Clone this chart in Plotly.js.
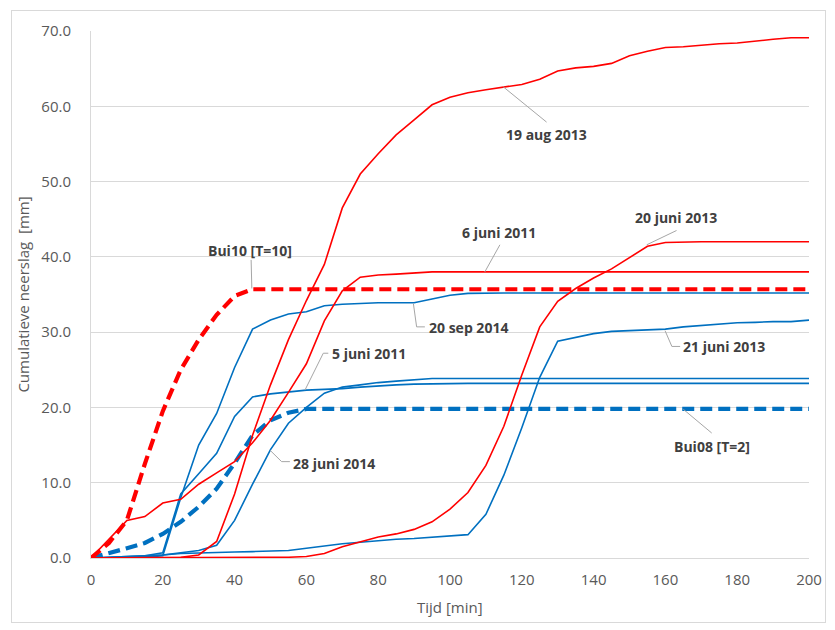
<!DOCTYPE html>
<html>
<head>
<meta charset="utf-8">
<script src="https://cdn.plot.ly/plotly-3.0.1.min.js"></script>
<style>
html,body{margin:0;padding:0;background:#fff;}
#chart{width:835px;height:630px;}
#frame{position:absolute;left:11px;top:10px;width:813px;height:611px;border:1px solid #d9d9d9;pointer-events:none;}
</style>
</head>
<body>
<div id="chart"></div>
<div id="frame"></div>
<script>
// time axis (minutes), 5-minute steps
const tijd = [0,5,10,15,20,25,30,35,40,45,50,55,60,65,70,75,80,85,90,95,100,105,110,115,120,125,130,135,140,145,150,155,160,165,170,175,180,185,190,195,200];

// cumulative rainfall [mm]
const aug19_2013 = [0,0,0,0,0,0.1,0.4,2.2,8.5,16.3,23,29,34.2,39,46.5,51,53.7,56.2,58.2,60.2,61.2,61.8,62.2,62.6,62.9,63.6,64.7,65.1,65.3,65.7,66.7,67.3,67.8,67.9,68.1,68.3,68.4,68.7,68.9,69.1,69.1];
const jun06_2011 = [0,2.5,5.0,5.5,7.3,7.8,9.8,11.3,12.8,15.3,18.3,22,25.8,31.5,35.5,37.3,37.6,37.7,37.9,38,38,38,38,38,38,38,38,38,38,38,38,38,38,38,38,38,38,38,38,38,38];
const jun20_2013 = [0,0,0,0,0.1,0.1,0.1,0.1,0.1,0.1,0.1,0.1,0.2,0.6,1.5,2.1,2.8,3.2,3.8,4.8,6.5,8.7,12.3,17.5,24.3,30.7,34.1,35.8,37.2,38.4,39.9,41.4,41.9,42,42,42,42,42,42,42,42];
const bui10 = [0,2.0,5.0,12.5,19.5,25,29,32.3,34.8,35.7,35.7,35.7,35.7,35.7,35.7,35.7,35.7,35.7,35.7,35.7,35.7,35.7,35.7,35.7,35.7,35.7,35.7,35.7,35.7,35.7,35.7,35.7,35.7,35.7,35.7,35.7,35.7,35.7,35.7,35.7,35.7];

const sep20_2014 = [0,0,0,0.1,0.3,8.0,15.0,19.2,25.3,30.4,31.6,32.4,32.7,33.5,33.7,33.8,33.9,33.9,33.9,34.4,34.9,35.15,35.2,35.2,35.2,35.2,35.2,35.2,35.2,35.2,35.2,35.2,35.2,35.2,35.2,35.2,35.2,35.2,35.2,35.2,35.2];
const jun05_2011 = [0,0.1,0.2,0.3,0.7,8.5,11.2,13.9,18.8,21.4,21.8,22.1,22.3,22.4,22.5,22.7,22.9,23.0,23.1,23.15,23.2,23.2,23.2,23.2,23.2,23.2,23.2,23.2,23.2,23.2,23.2,23.2,23.2,23.2,23.2,23.2,23.2,23.2,23.2,23.2,23.2];
const jun28_2014 = [0,0,0.1,0.2,0.4,0.7,1.0,1.7,5.0,9.8,14.4,17.9,20.0,21.9,22.7,23.0,23.3,23.5,23.7,23.85,23.85,23.85,23.85,23.85,23.85,23.85,23.85,23.85,23.85,23.85,23.85,23.85,23.85,23.85,23.85,23.85,23.85,23.85,23.85,23.85,23.85];
const jun21_2013 = [0,0.1,0.2,0.3,0.4,0.6,0.7,0.8,0.8,0.85,0.9,1.0,1.3,1.6,1.9,2.1,2.3,2.5,2.6,2.75,2.9,3.1,5.8,11,17.3,24,28.8,29.3,29.8,30.1,30.2,30.3,30.4,30.7,30.9,31.1,31.25,31.3,31.4,31.4,31.6];
const bui08 = [0,0.6,1.3,2.0,3.2,4.8,6.8,9.2,12.6,16.3,18.3,19.3,19.8,19.8,19.8,19.8,19.8,19.8,19.8,19.8,19.8,19.8,19.8,19.8,19.8,19.8,19.8,19.8,19.8,19.8,19.8,19.8,19.8,19.8,19.8,19.8,19.8,19.8,19.8,19.8,19.8];

const xTicks = [0,20,40,60,80,100,120,140,160,180,200];
const yTicks = [0,10,20,30,40,50,60,70];
const yTickText = ['0.0','10.0','20.0','30.0','40.0','50.0','60.0','70.0'];

const RED = '#FF0000', BLUE = '#0070C0';
function solid(y, c){ return {x:tijd, y:y, mode:'lines', line:{color:c, width:1.6}, hoverinfo:'skip'}; }
function dashed(y, c){ return {x:tijd, y:y, mode:'lines', line:{color:c, width:4.2, dash:'12px,6px'}, hoverinfo:'skip'}; }

const data = [
  solid(jun21_2013, BLUE), solid(jun28_2014, BLUE), solid(jun05_2011, BLUE), solid(sep20_2014, BLUE),
  dashed(bui08, BLUE),
  solid(jun20_2013, RED), solid(jun06_2011, RED), solid(aug19_2013, RED),
  dashed(bui10, RED)
];

// labels (data coordinates) and leader lines
const labels = [
  {t:'19 aug 2013', x:127, y:56.2, xa:'center'},
  {t:'6 juni 2011', x:113.6, y:43.2, xa:'center'},
  {t:'20 juni 2013', x:163, y:45.2, xa:'center'},
  {t:'20 sep 2014', x:93.6, y:30.6, xa:'left'},
  {t:'21 juni 2013', x:164.4, y:28.1, xa:'left'},
  {t:'Bui08 [T=2]', x:172.9, y:14.8, xa:'center'},
  {t:'5 juni 2011', x:66.5, y:27.2, xa:'left'},
  {t:'28 juni 2014', x:55.8, y:12.6, xa:'left'},
  {t:'Bui10 [T=10]', x:44.3, y:40.9, xa:'center'}
];
const leaders = [
  [[114.8,62.6],[126.9,57.9]],
  [[109.7,38.0],[113.9,41.6]],
  [[154.8,41.6],[163.1,43.5]],
  [[89.8,33.8],[90.7,30.7],[93,30.7]],
  [[159.9,30.2],[161.8,28.1],[164.1,28.1]],
  [[165,19.75],[172.9,16.6]],
  [[59.6,22.3],[64.7,27.2],[66.1,27.2]],
  [[49.9,14.3],[53.1,12.8],[55.4,12.8]],
  [[44.6,39.6],[44.8,35.8]]
];

const annotations = labels.map(l => ({
  text:l.t, x:l.x, y:l.y, xref:'x', yref:'y', showarrow:false, xanchor:l.xa, yanchor:'middle',
  font:{family:'Open Sans, Noto Sans, sans-serif', size:14, color:'#404040', weight:700}
}));
annotations.push({text:'Tijd [min]', xref:'paper', yref:'paper', x:0.5, y:0, yshift:-49, yanchor:'middle', showarrow:false,
  font:{family:'Open Sans, sans-serif', size:15, color:'#595959'}});

const shapes = leaders.map(pts => ({
  type:'path', xref:'x', yref:'y',
  path: pts.map((p,i)=>(i?'L':'M')+p[0]+','+p[1]).join(' '),
  line:{color:'#a6a6a6', width:1}
}));

const layout = {
  width:835, height:630,
  margin:{l:91, r:26, t:31, b:72},
  paper_bgcolor:'#ffffff', plot_bgcolor:'#ffffff',
  showlegend:false,
  font:{family:'Open Sans, sans-serif', color:'#595959', size:15},
  xaxis:{range:[0,200], tickvals:xTicks, ticktext:xTicks.map(String), showgrid:false, zeroline:false,
    showline:true, linecolor:'#d9d9d9', linewidth:1, mirror:false, ticks:'', ticklabelstandoff:8,
    tickfont:{size:15, color:'#595959'}, fixedrange:true},
  yaxis:{range:[0,70], tickvals:yTicks, ticktext:yTickText, showgrid:true, gridcolor:'#d9d9d9', gridwidth:1,
    zeroline:false, showline:true, linecolor:'#d9d9d9', linewidth:1, ticks:'', ticklabelstandoff:16,
    tickfont:{size:15, color:'#595959'},
    title:{text:'Cumulatieve neerslag  [mm]', font:{size:15, color:'#595959'}, standoff:8}, fixedrange:true},
  annotations: annotations,
  shapes: shapes
};

Plotly.newPlot('chart', data, layout, {staticPlot:true, displayModeBar:false});
</script>
</body>
</html>
